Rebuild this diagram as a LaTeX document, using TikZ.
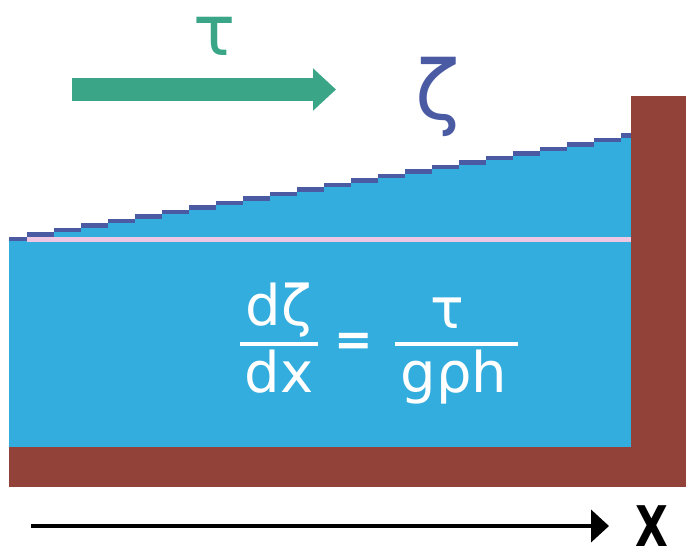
\documentclass[tikz,border=0pt]{standalone}
\usepackage{fontspec}
\setmainfont{DejaVu Sans}
\usetikzlibrary{arrows.meta}
\definecolor{agua}{HTML}{33ADDE}
\definecolor{superficie}{HTML}{4A5AA3}
\definecolor{rosa}{HTML}{EEC8E2}
\definecolor{fondo}{HTML}{924239}
\definecolor{viento}{HTML}{3AA687}
\newcommand{\ecfont}{\fontsize{56}{56}\selectfont}

\begin{document}
\begin{tikzpicture}[x=1pt, y=-1pt, every node/.style={inner sep=0pt, text=white, font=\ecfont},
    barra/.style={white, line width=4pt}]
    \useasboundingbox (0,0) rectangle (686,556);
    % Fondo y pared del canal.
    \fill[fondo] (9,447) rectangle (686,487);
    \fill[fondo] (631,96) rectangle (686,487);

    % Agua con la superficie inclinada, en escalones.
    \foreach \i in {0,...,23} {
        \pgfmathsetmacro{\xa}{ifthenelse(\i==0,9,27*\i)}
        \pgfmathsetmacro{\xb}{ifthenelse(\i==23,631,27*(\i+1))}
        \pgfmathsetmacro{\ya}{237-4.52*\i}
        \fill[agua] (\xa,\ya) rectangle (\xb+0.3,447);
        \fill[superficie] (\xa,\ya) rectangle (\xb+0.3,\ya+4.5);
    }
    \fill[rosa] (27,237) rectangle (631,242);

    % Viento y elevación.
    \coordinate (vientoIni) at (72,89.5);
    \coordinate (vientoFin) at (336,89.5);
    \draw[viento, line width=23pt, -{Triangle[length=23pt, width=41pt]}] (vientoIni) -- (vientoFin);
    \node[text=viento, font=\fontsize{70}{70}\selectfont] (tau) at (215,36) {τ};
    \node[text=superficie, font=\fontsize{82}{82}\selectfont] (zeta) at (438,97) {ζ};

    % Ecuación.
    \node[anchor=base] (numIzq) at (279,326) {dζ};
    \node[anchor=base] (denIzq) at (279,392) {dx};
    \draw[barra] (240,344) -- (318,344);
    \node[font=\bfseries\fontsize{46}{46}\selectfont] (igual) at (354,344) {=};
    \node[anchor=base] (numDer) at (447,328) {τ};
    \node[anchor=base] (denDer) at (454,392) {gρh};
    \draw[barra] (395,344) -- (518,344);

    % Eje x.
    \coordinate (ejeIni) at (31,526);
    \coordinate (ejeFin) at (609,526);
    \draw[line width=4pt, -{Triangle[length=18pt, width=32pt]}] (ejeIni) -- (ejeFin);
    \node[text=black, font=\bfseries\fontsize{56}{56}\selectfont] (ejeX) at (652,526) {\scalebox{0.76}[1]{X}};
\end{tikzpicture}
\end{document}
